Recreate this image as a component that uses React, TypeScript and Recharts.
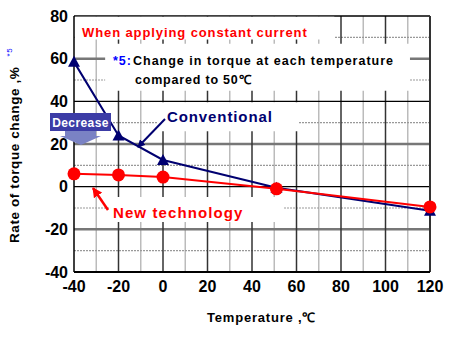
import { Line, LineChart, ReferenceArea, ReferenceLine, XAxis, YAxis } from 'recharts'

// temperatures (°C) and torque change (%)
const temps = [-40, -20, 0, 51, 120]
const conventional = [58.5, 24, 12.5, -0.5, -11.3]
const newTech = [6, 5.5, 4.5, -1, -9.5]

const xTicks = [-40, -20, 0, 20, 40, 60, 80, 100, 120]
const yTicks = [-40, -20, 0, 20, 40, 60, 80]

// grid lines, drawn as reference lines so each kind can get its own look
const majorX = [-20, 0, 20, 40, 60, 80, 100]
const minorX = [-30, -10, 10, 30, 50, 70, 90, 110]
const blackY = [0, 40]
const grayY = [-20, 20, 60]
const minorY = [-30, -10, 10, 30, 50, 70]

// white patches behind annotation text (x1, x2, y1, y2 in data units)
const blanks = [
  [-39.6, 77, 69, 79.6],
  [-26, 111, 45, 67],
  [-2.7, 60.7, 26, 39.6],
  [-23.8, 54.4, -16.6, -4.8],
]

const data = temps.map((t, i) => ({ t, conv: conventional[i], nt: newTech[i] }))

const FONT = '"Liberation Sans", Arial, sans-serif'
const NAVY = '#000070'
const RED = '#ff0000'

function Triangle(props: any) {
  const { cx, cy } = props
  if (cx == null || cy == null) return null
  return <polygon points={`${cx},${cy - 6} ${cx - 6},${cy + 5} ${cx + 6},${cy + 5}`} fill={NAVY} />
}

function Circle(props: any) {
  const { cx, cy } = props
  if (cx == null || cy == null) return null
  return <circle cx={cx} cy={cy} r={6.5} fill={RED} />
}

// the "Decrease" tag sits on top of the conventional line, so it goes in an overlay
function DecreaseTag() {
  return (
    <svg width={454} height={337} style={{ position: 'absolute', left: 0, top: 0, pointerEvents: 'none' }}>
      <polygon points="65,131 96,131 96,136 101,136 81,145 60,136 65,136" fill="#7a82c4" />
      <rect x={50} y={113} width={61} height={18} fill="#3c3ca6" />
      <text x={80.5} y={126.5} textAnchor="middle" fill="#fff" fontFamily={FONT} fontWeight={700} fontSize={12} letterSpacing={0.4}>
        Decrease
      </text>
    </svg>
  )
}

export default function App() {
  return (
    <div style={{ position: 'absolute', left: 0, top: 0, width: 454, height: 337, background: '#fff' }}>
      <LineChart width={454} height={337} data={data} margin={{ top: 16, right: 24, bottom: 35, left: 0 }}>
        <defs>
          <marker id="headNavy" markerWidth="8" markerHeight="8" refX="7" refY="4" orient="auto" markerUnits="userSpaceOnUse">
            <path d="M0,0 L8,4 L0,8 z" fill={NAVY} />
          </marker>
          <marker id="headRed" markerWidth="10" markerHeight="10" refX="9" refY="5" orient="auto" markerUnits="userSpaceOnUse">
            <path d="M0,0 L10,5 L0,10 z" fill={RED} />
          </marker>
        </defs>
        <XAxis
          type="number"
          dataKey="t"
          domain={[-40, 120]}
          ticks={xTicks}
          height={30}
          tickSize={0}
          tickMargin={9}
          axisLine={{ stroke: '#000', strokeWidth: 2 }}
          tick={{ fill: '#000', fontSize: 16, fontWeight: 700, fontFamily: FONT }}
        />
        <YAxis
          type="number"
          domain={[-40, 80]}
          ticks={yTicks}
          width={74}
          tickSize={0}
          tickMargin={6}
          axisLine={{ stroke: '#000', strokeWidth: 1.5 }}
          tick={{ fill: '#000', fontSize: 16, fontWeight: 700, fontFamily: FONT }}
        />
        {minorX.map((v) => (
          <ReferenceLine key={'mx' + v} x={v} stroke="#bbb" strokeWidth={1.5} zIndex={-60} />
        ))}
        {minorY.map((v) => (
          <ReferenceLine key={'my' + v} y={v} stroke="#999" strokeWidth={1.2} strokeDasharray="2 1" zIndex={-60} />
        ))}
        {grayY.map((v) => (
          <ReferenceLine key={'gy' + v} y={v} stroke="#777" strokeWidth={2.5} zIndex={-55} />
        ))}
        {majorX.map((v) => (
          <ReferenceLine key={'jx' + v} x={v} stroke="#333" strokeWidth={1.5} zIndex={-50} />
        ))}
        {blackY.map((v) => (
          <ReferenceLine key={'by' + v} y={v} stroke="#000" strokeWidth={1.2} zIndex={-50} />
        ))}
        <ReferenceLine y={80} stroke="#000" strokeWidth={1.5} zIndex={-50} />
        <ReferenceLine x={120} stroke="#333" strokeWidth={2} zIndex={-50} />
        {blanks.map(([x1, x2, y1, y2], i) => (
          <ReferenceArea key={'b' + i} x1={x1} x2={x2} y1={y1} y2={y2} fill="#fff" fillOpacity={1} stroke="none" zIndex={-10} />
        ))}
        <Line
          dataKey="conv"
          stroke={NAVY}
          strokeWidth={2}
          dot={<Triangle />}
          activeDot={false}
          isAnimationActive={false}
        />
        <Line
          dataKey="nt"
          stroke={RED}
          strokeWidth={2}
          dot={<Circle />}
          activeDot={false}
          isAnimationActive={false}
        />

        {/* annotations */}
        <text x={82} y={37} fill={RED} fontFamily={FONT} fontWeight={700} fontSize={13} letterSpacing={0.9}>
          When applying constant current
        </text>
        <text x={113} y={65} fill="#000" fontFamily={FONT} fontWeight={700} fontSize={12.5} letterSpacing={1}>
          <tspan fill="#0000ff">*5:</tspan>
          <tspan dx={1}>Change in torque at each temperature</tspan>
        </text>
        <text x={135} y={84} fill="#000" fontFamily={FONT} fontWeight={700} fontSize={12.5} letterSpacing={0.8}>
          compared to 50℃
        </text>
        <text x={167} y={122} fill={NAVY} fontFamily={FONT} fontWeight={700} fontSize={15} letterSpacing={0.9}>
          Conventional
        </text>
        <line x1={165} y1={119} x2={138} y2={147} stroke={NAVY} strokeWidth={2} markerEnd="url(#headNavy)" />
        <text x={113} y={218} fill={RED} fontFamily={FONT} fontWeight={700} fontSize={15} letterSpacing={1.1}>
          New technology
        </text>
        <line x1={108} y1={210} x2={93} y2={188} stroke={RED} strokeWidth={2.5} markerEnd="url(#headRed)" />

        <text
          transform="translate(19,243) rotate(-90)"
          fill="#000"
          fontFamily={FONT}
          fontWeight={700}
          fontSize={13.5}
          letterSpacing={0.6}
        >
          Rate of torque change ,%
          <tspan dx={10} dy={-7} fill="#0000ff" fontSize={8} fontWeight={400}>
            *5
          </tspan>
        </text>
        <text x={207} y={322} fill="#000" fontFamily={FONT} fontWeight={700} fontSize={13} letterSpacing={0.8}>
          Temperature ,℃
        </text>
      </LineChart>
      <DecreaseTag />
    </div>
  )
}
